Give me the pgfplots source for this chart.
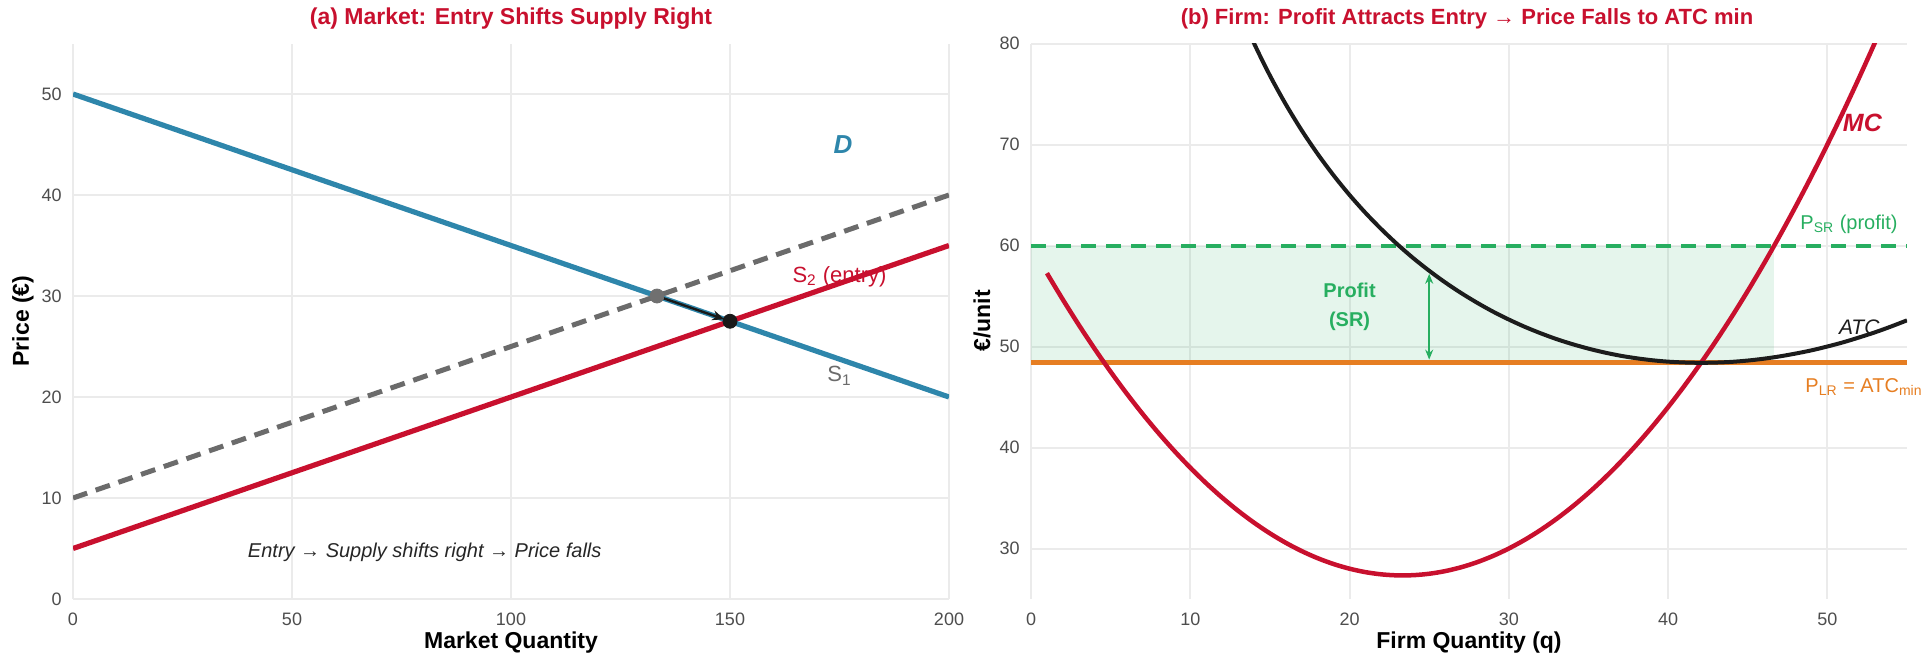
\documentclass[border=0pt]{standalone}
\usepackage{pgfplots}
\pgfplotsset{compat=1.18}
\usepackage{fontspec}
\setmainfont{Liberation Sans}
\usetikzlibrary{arrows.meta}
\definecolor{cblue}{HTML}{2E86AB}
\definecolor{cred}{HTML}{C8102E}
\definecolor{cgrayd}{HTML}{6B6B6B}
\definecolor{cgraydot}{HTML}{707070}
\definecolor{cgreen}{HTML}{27AE60}
\definecolor{corange}{HTML}{E67E22}
\definecolor{cgrid}{HTML}{EBEBEB}
\definecolor{ctick}{HTML}{4D4D4D}
\definecolor{catc}{HTML}{1C1C1C}
\pgfplotsset{
  myaxis/.style={
    scale only axis, width=438pt, height=277.75pt, anchor=south west,
    axis line style={draw=none},
    major tick length=0pt,
    grid=major, major grid style={cgrid, line width=1pt},
    /pgf/number format/assume math mode=true,
    tick label style={font=\fontsize{9}{10}\selectfont, text=ctick},
    xticklabel style={anchor=north, inner sep=0pt, yshift=-7pt},
    yticklabel style={anchor=east, inner sep=0pt, xshift=-5.5pt},
  }
}
\begin{document}
\begin{tikzpicture}
\useasboundingbox (0,0) rectangle (960.5pt,330pt);
% ---------- Panel (a)
\begin{axis}[myaxis, at={(36.5pt,30.5pt)}, xmin=0, xmax=200, ymin=0, ymax=55,
  xtick={0,50,100,150,200}, ytick={0,10,20,30,40,50}]
\addplot[cgrayd, line width=2.5pt, dash pattern=on 7.5pt off 4.5pt] coordinates {(0,10) (200,40)};
\addplot[cred, line width=2.6pt] coordinates {(0,5) (200,35)};
\addplot[cblue, line width=2.6pt] coordinates {(0,50) (200,20)};
\addplot[black!90, line width=1.2pt, -{Stealth[length=6pt,width=5pt]}, shorten >=3pt] coordinates {(133.33,30) (150,27.5)};
\addplot[only marks, mark=*, mark size=3.5pt, cgraydot] coordinates {(133.33,30)};
\addplot[only marks, mark=*, mark size=3.5pt, black!90] coordinates {(150,27.5)};
\node[font=\bfseries\itshape\fontsize{13}{15}\selectfont, text=cblue] at (axis cs:175.8,45) {D};
\node[font=\fontsize{11}{13}\selectfont, text=cred] at (axis cs:175,31.9) {S\textsubscript{2} (entry)};
\node[font=\fontsize{11}{13}\selectfont, text=cgrayd] at (axis cs:175,22.1) {S\textsubscript{1}};
\node[font=\itshape\fontsize{10}{12}\selectfont, text=black!85] at (axis cs:80.3,4.65) {Entry → Supply shifts right → Price falls};
\end{axis}
% ---------- Panel (b)
\begin{axis}[myaxis, at={(515.5pt,30.5pt)}, xmin=0, xmax=55, ymin=25, ymax=80,
  xtick={0,10,20,30,40,50}, ytick={30,40,50,60,70,80}]
\addplot[fill=cgreen, fill opacity=0.12, draw=none] coordinates {(0,48.385) (46.67,48.385) (46.67,60) (0,60)} -- cycle;
\addplot[cgreen, line width=2pt, dash pattern=on 7.5pt off 5pt] coordinates {(0,60) (55,60)};
\addplot[corange, line width=2.5pt] coordinates {(0,48.385) (55,48.385)};
\addplot[cred, line width=2.25pt, smooth] coordinates {
(1,57.26) (2,54.64) (3,52.14) (4,49.76) (5,47.5) (6,45.36) (7,43.34) (8,41.44) (9,39.66) (10,38)
(11,36.46) (12,35.04) (13,33.74) (14,32.56) (15,31.5) (16,30.56) (17,29.74) (18,29.04) (19,28.46) (20,28)
(21,27.66) (22,27.44) (23,27.34) (24,27.36) (25,27.5) (26,27.76) (27,28.14) (28,28.64) (29,29.26) (30,30)
(31,30.86) (32,31.84) (33,32.94) (34,34.16) (35,35.5) (36,36.96) (37,38.54) (38,40.24) (39,42.06) (40,44)
(41,46.06) (42,48.24) (43,50.54) (44,52.96) (45,55.5) (46,58.16) (47,60.94) (48,63.84) (49,66.86) (50,70)
(51,73.26) (52,76.64) (53,80.14) (54,83.76)};
\addplot[catc, line width=2pt, smooth] coordinates {
(13,83.64) (14,80.03) (15,76.83) (16,73.97) (17,71.39) (18,69.06) (19,66.94) (20,65)
(21,63.23) (22,61.61) (23,60.12) (24,58.75) (25,57.5) (26,56.35) (27,55.30) (28,54.34) (29,53.46) (30,52.67)
(31,51.95) (32,51.31) (33,50.73) (34,50.23) (35,49.79) (36,49.41) (37,49.09) (38,48.84) (39,48.64) (40,48.5)
(41,48.42) (42,48.385) (43,48.41) (44,48.48) (45,48.61) (46,48.79) (47,49.02) (48,49.30) (49,49.62) (50,50)
(51,50.42) (52,50.90) (53,51.41) (54,51.98) (55,52.59)};
\addplot[cgreen, line width=1pt, {Stealth[length=5pt,width=4pt]}-{Stealth[length=5pt,width=4pt]}] coordinates {(25,48.7) (25,57.2)};
\node[font=\bfseries\fontsize{10}{14.5}\selectfont, text=cgreen, align=center] at (axis cs:20,53.9) {Profit\\(SR)};
\node[font=\bfseries\itshape\fontsize{12.5}{14}\selectfont, text=cred] at (axis cs:52.2,72.1) {MC};
\node[font=\itshape\fontsize{10.5}{12}\selectfont, text=catc] at (axis cs:52,51.9) {ATC};
\node[font=\fontsize{10}{12}\selectfont, text=cgreen, anchor=east] at (axis cs:54.85,62.1) {P\textsubscript{SR} (profit)};
\coordinate (plr) at (axis cs:48.6,46);
\end{axis}
\node[font=\fontsize{10}{12}\selectfont, text=corange, anchor=west, inner sep=0pt] at (plr) {P\textsubscript{LR} = ATC\textsubscript{min}};
% titles and labels
\node[font=\bfseries\fontsize{11.5}{14}\selectfont, text=cred] at (255.5pt,320.8pt) {(a) Market: Entry Shifts Supply Right};
\node[font=\bfseries\fontsize{11}{14}\selectfont, text=cred] at (733.5pt,320.8pt) {(b) Firm: Profit Attracts Entry → Price Falls to ATC min};
\node[font=\bfseries\fontsize{11.5}{13}\selectfont] at (255.5pt,8.5pt) {Market Quantity};
\node[font=\bfseries\fontsize{11.5}{13}\selectfont] at (734.5pt,8.5pt) {Firm Quantity (q)};
\node[font=\bfseries\fontsize{11.5}{13}\selectfont, rotate=90] at (11.5pt,169.5pt) {Price (€)};
\node[font=\bfseries\fontsize{11.5}{13}\selectfont, rotate=90] at (491pt,169.5pt) {€/unit};
\end{tikzpicture}
\end{document}
